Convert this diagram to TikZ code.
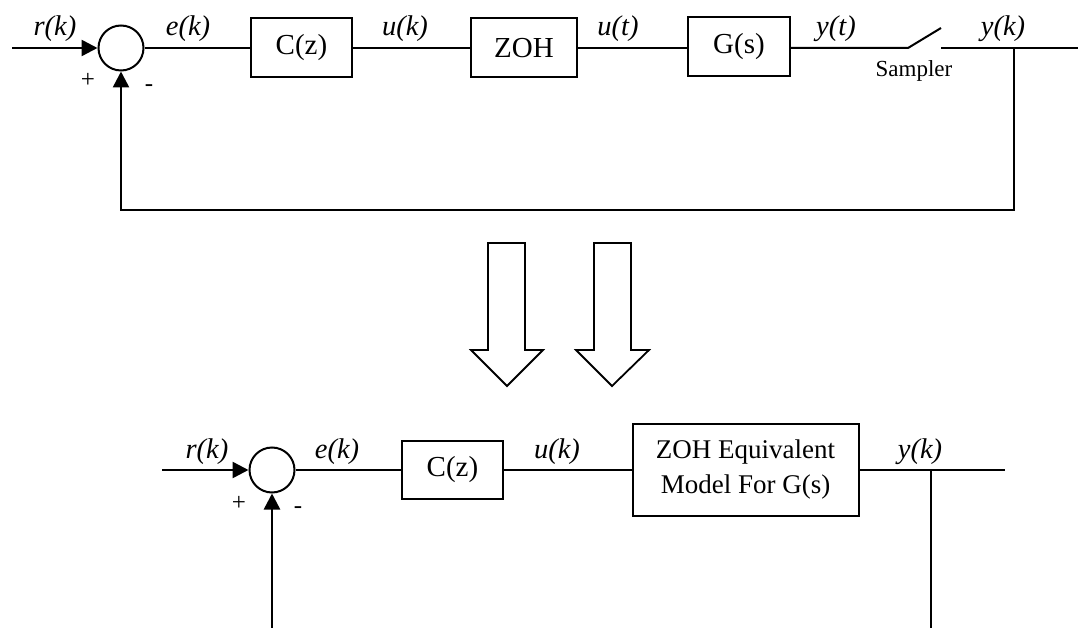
\documentclass[tikz,border=0pt]{standalone}
\usepackage{fontspec}
\setmainfont{Liberation Serif}
\usetikzlibrary{arrows.meta}
\begin{document}
\begin{tikzpicture}[x=1pt,y=-1pt,
  line/.style={line width=2pt},
  arr/.style={line width=2.5pt,-{Triangle[length=16pt,width=16pt]}},
  blk/.style={draw,line width=2pt,inner sep=0pt,font=\fontsize{29}{35}\selectfont},
  sig/.style={font=\fontsize{28.5}{32}\selectfont\itshape,anchor=base,inner sep=0pt},
  sumc/.style={draw,circle,line width=2pt,minimum size=45pt,inner sep=0pt},
  sgn/.style={font=\fontsize{25}{28}\selectfont,inner sep=0pt},
  smp/.style={font=\fontsize{23}{28}\selectfont,anchor=base,inner sep=0pt},
  hollow/.style={draw,line width=1.8pt,line join=miter}]
\useasboundingbox (0,0) rectangle (1078,628);
% ---- top loop ----
\node[sumc] (s1) at (121,48) {};
\coordinate (in1) at (12,48);
\node[blk,minimum width=101pt,minimum height=59pt] (c1) at (301.5,48) {C(z)};
\node[blk,minimum width=106pt,minimum height=59pt] (zoh) at (524,48) {ZOH};
\node[blk,minimum width=102pt,minimum height=59pt] (g) at (739,47) {G(s)};
\coordinate (sw1) at (908,48);
\coordinate (sw2) at (941,28);
\coordinate (sw3) at (941,48);
\coordinate (out1) at (1078,48);
\coordinate (j1) at (1014,48);
\coordinate (fb1) at (1014,210);
\draw[arr] (in1) -- (s1.west);
\draw[line] (s1.east) -- (c1.west);
\draw[line] (c1.east) -- (zoh.west);
\draw[line] (zoh.east) -- (g.west |- zoh.east);
\draw[line] (g.east |- sw1) -- (sw1) -- (sw2);
\draw[line] (sw3) -- (out1);
\draw[arr] (j1) -- (fb1) -| (s1.south);
\node[sig] (lr1) at (55,36) {r(k)};
\node[sig] (le1) at (188,36) {e(k)};
\node[sig] (lu1) at (405,36) {u(k)};
\node[sig] (lut) at (618,36) {u(t)};
\node[sig] (lyt) at (836,36) {y(t)};
\node[sig] (ly1) at (1003,36) {y(k)};
\node[smp] (lsmp) at (914,77) {Sampler};
\node[sgn] (p1) at (88,80) {+};
\node[sgn] (m1) at (149,88) {-};
% ---- hollow arrows ----
\draw[hollow] (488,243) -- (525,243) -- (525,350) -- (543,350) -- (507,386) -- (471,350) -- (488,350) -- cycle;
\draw[hollow] (594,243) -- (631,243) -- (631,350) -- (649,350) -- (612,386) -- (576,350) -- (594,350) -- cycle;
% ---- bottom loop ----
\node[sumc] (s2) at (272,470) {};
\coordinate (in2) at (162,470);
\node[blk,minimum width=101pt,minimum height=58pt] (c2) at (452.5,470) {C(z)};
\node[blk,minimum width=226pt,minimum height=92pt,align=center,font=\fontsize{27}{35}\selectfont] (zeq) at (745.5,470) {ZOH Equivalent\\Model For G(s)};
\coordinate (out2) at (1005,470);
\coordinate (j2) at (931,470);
\coordinate (bot2) at (931,628);
\coordinate (bot1) at (272,628);
\draw[arr] (in2) -- (s2.west);
\draw[line] (s2.east) -- (c2.west);
\draw[line] (c2.east) -- (zeq.west);
\draw[line] (zeq.east) -- (out2);
\draw[line] (j2) -- (bot2);
\draw[arr] (bot1) -- (s2.south);
\node[sig] (lr2) at (207,458) {r(k)};
\node[sig] (le2) at (337,458) {e(k)};
\node[sig] (lu2) at (557,458) {u(k)};
\node[sig] (ly2) at (920,458) {y(k)};
\node[sgn] (p2) at (239,503) {+};
\node[sgn] (m2) at (298,510) {-};
\end{tikzpicture}
\end{document}
